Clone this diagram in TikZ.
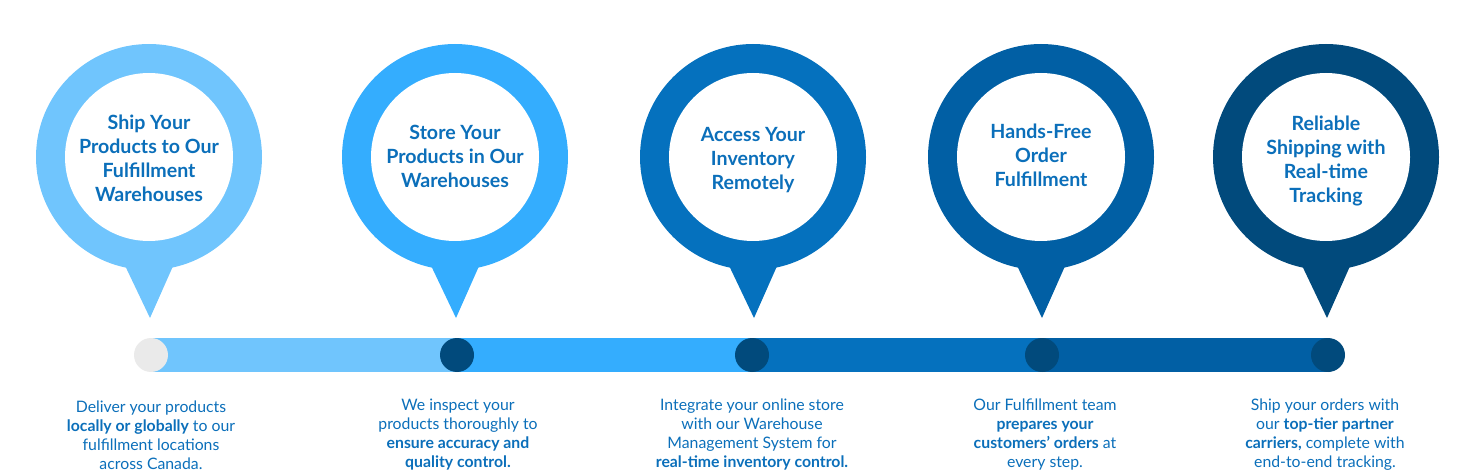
\documentclass[tikz,border=0pt]{standalone}
\usepackage{fontspec}
\setmainfont{Lato}
\definecolor{cA}{HTML}{70C5FD}
\definecolor{cB}{HTML}{34ADFE}
\definecolor{cC}{HTML}{0571BE}
\definecolor{cD}{HTML}{015FA4}
\definecolor{cE}{HTML}{014A7C}
\definecolor{dotgray}{HTML}{EAEAEA}
\definecolor{txt}{HTML}{0B6FBA}
\tikzset{
  pinouter/.style={circle, minimum size=226pt, inner sep=0pt},
  pininner/.style={circle, fill=white, minimum size=168pt, inner sep=0pt},
  pintitle/.style={text=txt, align=center, font=\fontsize{19.6}{24}\selectfont\bfseries},
  desc/.style={text=txt, align=center, font=\fontsize{15.8}{19}\selectfont},
  dotnode/.style={circle, minimum size=34pt, inner sep=0pt},
  barseg/.style={line width=34pt},
}
\begin{document}
\begin{tikzpicture}[x=1pt,y=-1pt]
\useasboundingbox (0,0) rectangle (1473,473);
% pins
\foreach \n/\cx/\col in {1/149/cA,2/455/cB,3/753/cC,4/1041/cD,5/1326/cE}{
  \fill[\col] (\cx-27.6,258) -- (\cx+1,318) -- (\cx+27.6,258) -- cycle;
  \node[pinouter, fill=\col] (p\n) at (\cx,157) {};
  \node[pininner] (i\n) at (p\n) {};
}
\node[pintitle] (t1) at ([yshift=-1pt]i1) {Ship Your\\Products to Our\\Fulfillment\\Warehouses};
\node[pintitle] (t2) at ([yshift=1pt]i2) {Store Your\\Products in Our\\Warehouses};
\node[pintitle] (t3) at ([yshift=-3pt]i3) {Access Your\\Inventory\\Remotely};
\node[pintitle] (t4) at ([yshift=2pt]i4) {Hands-Free\\Order\\Fulfillment};
\node[pintitle] (t5) at ([yshift=-4pt]i5) {Reliable\\Shipping with\\Real-time\\Tracking};
% timeline dots
\coordinate (d1) at (151,355);
\coordinate (d2) at (457,355);
\coordinate (d3) at (752,355);
\coordinate (d4) at (1042,355);
\coordinate (d5) at (1328,355);
\draw[barseg, cA] (d1) -- (d2);
\draw[barseg, cB] (d2) -- (d3);
\draw[barseg, cC] (d3) -- (d4);
\draw[barseg, cD] (d4) -- (d5);
\node[dotnode, fill=dotgray] (n1) at (d1) {};
\node[dotnode, fill=cE] (n2) at (d2) {};
\node[dotnode, fill=cE] (n3) at (d3) {};
\node[dotnode, fill=cE] (n4) at (d4) {};
\node[dotnode, fill=cE] (n5) at (d5) {};
% descriptions
\node[desc] (b1) at (151,435) {Deliver your products\\\textbf{locally or globally} to our\\fulfillment locations\\across Canada.};
\node[desc] (b2) at (458,435) {We inspect your\\products thoroughly to\\\textbf{ensure accuracy and}\\\textbf{quality control.}};
\node[desc] (b3) at (752,435) {Integrate your online store\\with our Warehouse\\Management System for\\\textbf{real-time inventory control.}};
\node[desc] (b4) at (1045,435) {Our Fulfillment team\\\textbf{prepares your}\\\textbf{customers’ orders} at\\every step.};
\node[desc] (b5) at (1325,435) {Ship your orders with\\our \textbf{top-tier partner}\\\textbf{carriers,} complete with\\end-to-end tracking.};
\end{tikzpicture}
\end{document}
